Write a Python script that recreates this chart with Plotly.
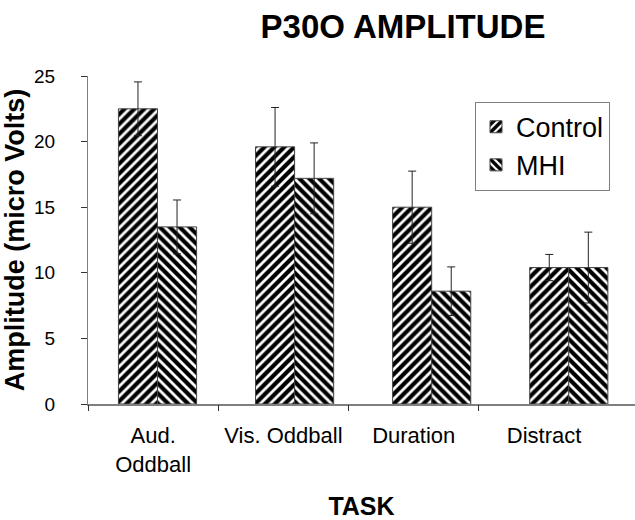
import plotly.graph_objects as go

tasks = ["Aud. Oddball", "Vis. Oddball", "Duration", "Distract"]
tick_labels = ["Aud.<br>Oddball", "Vis. Oddball", "Duration", "Distract"]
control = [22.5, 19.6, 15.0, 10.4]
control_err = [2.05, 3.0, 2.75, 1.0]
mhi = [13.5, 17.2, 8.6, 10.4]
mhi_err = [2.05, 2.7, 1.85, 2.7]

FONT = "Liberation Sans, Arial, sans-serif"
AX = "#7f7f7f"

fig = go.Figure()
fig.add_trace(go.Bar(
    name="Control", x=tasks, y=control,
    marker=dict(color="white", line=dict(color="#444", width=1),
                pattern=dict(shape="/", fgcolor="black", bgcolor="white", size=7, solidity=0.6,
                             fgopacity=1)),
    error_y=dict(type="data", array=control_err, visible=True, color="#222", thickness=1, width=4),
))
fig.add_trace(go.Bar(
    name="MHI", x=tasks, y=mhi,
    marker=dict(color="white", line=dict(color="#444", width=1),
                pattern=dict(shape="\\", fgcolor="black", bgcolor="white", size=7, solidity=0.6,
                             fgopacity=1)),
    error_y=dict(type="data", array=mhi_err, visible=True, color="#222", thickness=1, width=4),
))
# empty trace to hold the label axis
fig.add_trace(go.Scatter(x=[], y=[], xaxis="x2", showlegend=False, hoverinfo="skip"))

fig.update_layout(
    width=635, height=520,
    margin=dict(l=88, r=0, t=76, b=116),
    paper_bgcolor="white", plot_bgcolor="white",
    font=dict(family=FONT, color="black"),
    barmode="group", bargap=0.43, bargroupgap=0,
    title=dict(text="<b>P30O AMPLITUDE</b>", font=dict(size=33, family=FONT),
               x=403/635, xanchor="center", y=1 - 38/520, yanchor="bottom"),
    showlegend=True,
    legend=dict(x=0.7075, y=0.9216, xanchor="left", yanchor="top",
                bordercolor=AX, borderwidth=1, bgcolor="white",
                font=dict(size=27, family=FONT), tracegroupgap=0),
    xaxis=dict(type="category", range=[-0.507, 3.483], showticklabels=False, automargin=False,
               ticks="", showline=True, linecolor=AX, linewidth=2, showgrid=False,
               zeroline=False, fixedrange=True),
    xaxis2=dict(overlaying="x", range=[0, 4.198], showline=False, showgrid=False, zeroline=False,
                tickmode="array", tickvals=[0.5, 1.5, 2.5, 3.5], ticktext=tick_labels,
                ticks="", tickfont=dict(size=22, family=FONT), automargin=False,
                minor=dict(tickmode="array", tickvals=[0, 1, 2, 3], ticks="outside",
                           ticklen=6, tickcolor="#333", tickwidth=1, showgrid=False),
                side="bottom", anchor="y", ticklabelstandoff=16,
                title=dict(text="<b>TASK</b>", font=dict(size=25, family=FONT), standoff=22)),
    yaxis=dict(range=[0, 25], dtick=5, tick0=0, ticks="outside", ticklen=6, tickcolor="#333",
               showline=True, linecolor=AX, linewidth=1, showgrid=False, zeroline=False,
               automargin=False,
               tickfont=dict(size=19, family=FONT), ticklabelstandoff=22,
               title=dict(text="<b>Amplitude (micro Volts)</b>", font=dict(size=27, family=FONT),
                          standoff=6)),
)

fig.write_html("out.html", config={"displayModeBar": False},
               post_script="document.body.style.margin='0';document.body.style.overflow='hidden';")
